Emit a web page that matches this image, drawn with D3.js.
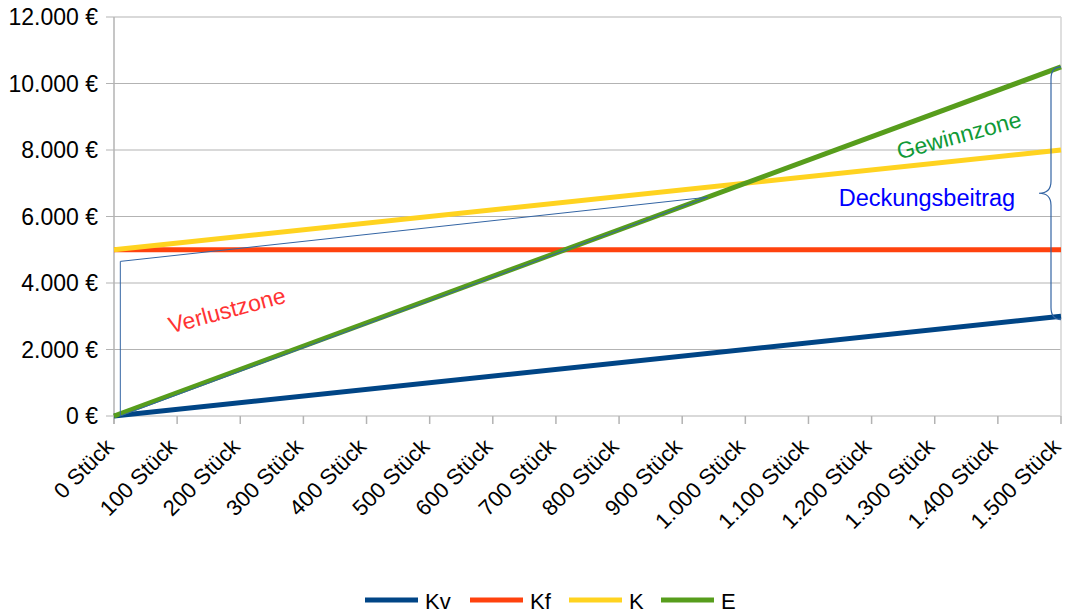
<!DOCTYPE html>
<html><head><meta charset="utf-8">
<script src="https://cdn.jsdelivr.net/npm/d3@7"></script>
<style>body{margin:0;background:#fff}svg{display:block;font-family:"Liberation Sans",Arial,sans-serif}</style>
</head><body><svg id="c" width="1068" height="613"></svg>
<script>
const quantities = [0, 1500];
const seriesNames = ["Kv", "Kf", "K", "E"];
const kvValues = [0, 3000];
const kfValues = [5000, 5000];
const kValues = [5000, 8000];
const eValues = [0, 10500];
const seriesColors = ["#004586", "#ff420e", "#ffd320", "#579d1c"];
const xTicks = d3.range(0, 1501, 100);
const yTicks = d3.range(0, 12001, 2000);
// annotation triangle (Deckungsbeitrag sketch) in data units
const triangleX = [10, 10, 940, 10];
const triangleY = [0, 4650, 6580, 0];
const braceTop = 10500, braceBottom = 2900;

const fmt = d3.formatLocale({decimal: ",", thousands: ".", grouping: [3], currency: ["", " €"]});
const num = fmt.format(",d");

const svg = d3.select("#c");
const x = d3.scaleLinear().domain([0, 1500]).range([114, 1061]);
const y = d3.scaleLinear().domain([0, 12000]).range([416, 17]);

// gridlines
svg.append("g").selectAll("line").data(yTicks).join("line")
  .attr("x1", 106).attr("x2", x(1500)).attr("y1", d => y(d)).attr("y2", d => y(d))
  .attr("stroke", "#b3b3b3").attr("stroke-width", 1);
// right border
svg.append("line").attr("x1", x(1500)).attr("x2", x(1500)).attr("y1", y(12000)).attr("y2", y(0))
  .attr("stroke", "#d4d4d4").attr("stroke-width", 1.5);
// y axis line
svg.append("line").attr("x1", x(0)).attr("x2", x(0)).attr("y1", y(12000)).attr("y2", y(0) + 8)
  .attr("stroke", "#b3b3b3").attr("stroke-width", 1.5);
// x ticks
svg.append("g").selectAll("line").data(xTicks).join("line")
  .attr("x1", d => x(d)).attr("x2", d => x(d)).attr("y1", y(0)).attr("y2", y(0) + 8)
  .attr("stroke", "#b3b3b3").attr("stroke-width", 1.5);

// y labels
svg.append("g").selectAll("text").data(yTicks).join("text")
  .attr("x", 98).attr("y", d => y(d)).attr("dy", "0.35em")
  .attr("text-anchor", "end").attr("font-size", 23).attr("fill", "#000")
  .text(d => num(d) + " €");
// x labels
svg.append("g").selectAll("text").data(xTicks).join("text")
  .attr("transform", d => `translate(${x(d) + 1},${y(0) + 32}) rotate(-45)`)
  .attr("text-anchor", "end").attr("font-size", 22).attr("fill", "#000")
  .text(d => num(d) + " Stück");

// series lines
const seriesData = [kvValues, kfValues, kValues, eValues];
const line = d3.line().x((d, i) => x(quantities[i])).y(d => y(d));
seriesData.forEach((vals, i) => {
  svg.append("path").datum(vals).attr("d", line).attr("fill", "none")
    .attr("stroke", seriesColors[i]).attr("stroke-width", 5).attr("stroke-linecap", "butt");
});

// annotation triangle
const tri = triangleX.map((v, i) => [x(v), y(triangleY[i])]);
svg.append("path").attr("d", d3.line()(tri)).attr("fill", "none")
  .attr("stroke", "#3465a4").attr("stroke-width", 1);

// brace
(function(){
  const xr = x(1500), xm = xr - 10, xc = xr - 22;
  const yt = y(braceTop), yb = y(braceBottom), ym = (yt + yb) / 2;
  const p = d3.path();
  p.moveTo(xr, yt);
  p.quadraticCurveTo(xm, yt, xm, yt + 12);
  p.lineTo(xm, ym - 12);
  p.quadraticCurveTo(xm, ym, xc, ym);
  p.quadraticCurveTo(xm, ym, xm, ym + 12);
  p.lineTo(xm, yb - 12);
  p.quadraticCurveTo(xm, yb, xr, yb);
  svg.append("path").attr("d", p.toString()).attr("fill", "none")
    .attr("stroke", "#3465a4").attr("stroke-width", 1.2);
})();

// annotations text
svg.append("text").attr("transform", `translate(229,318) rotate(-15)`)
  .attr("text-anchor", "middle").attr("font-size", 23).attr("fill", "#ff3333").text("Verlustzone");
svg.append("text").attr("transform", `translate(961,143) rotate(-15)`)
  .attr("text-anchor", "middle").attr("font-size", 23).attr("fill", "#109a37").text("Gewinnzone");
svg.append("text").attr("x", 927).attr("y", 206)
  .attr("text-anchor", "middle").attr("font-size", 23.5).attr("fill", "#0000ff").text("Deckungsbeitrag");

// legend
const legendX = [365, 470, 569, 661];
const lg = svg.append("g");
seriesNames.forEach((n, i) => {
  lg.append("line").attr("x1", legendX[i]).attr("x2", legendX[i] + 53).attr("y1", 600).attr("y2", 600)
    .attr("stroke", seriesColors[i]).attr("stroke-width", 5);
  lg.append("text").attr("x", legendX[i] + 60).attr("y", 601).attr("dy", "0.35em")
    .attr("font-size", 22).attr("fill", "#000").text(n);
});
</script></body></html>
